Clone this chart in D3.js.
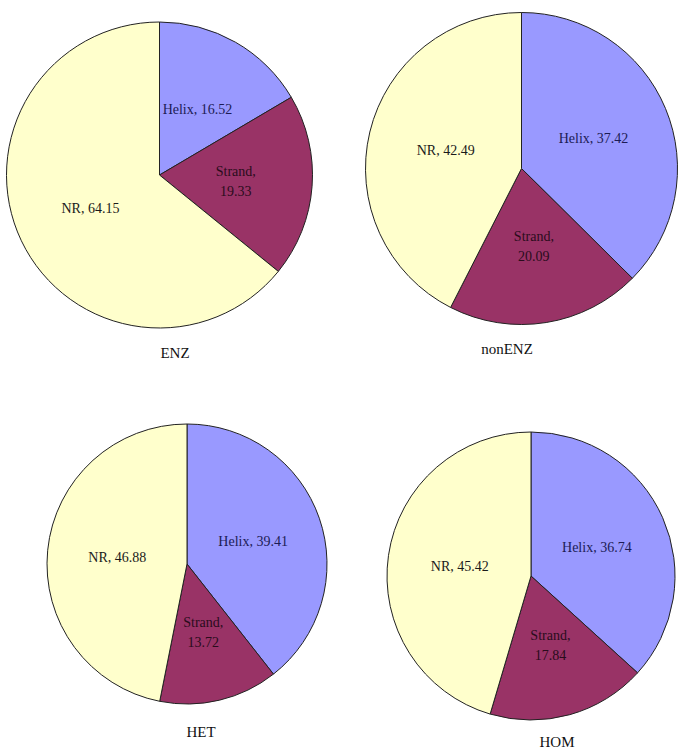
<!DOCTYPE html>
<html>
<head>
<meta charset="utf-8">
<script src="https://cdn.jsdelivr.net/npm/d3@7"></script>
<style>
  body { margin: 0; background: #fff; }
  svg { display: block; }
  text { font-family: "Liberation Serif", "Times New Roman", serif; }
</style>
</head>
<body>
<svg id="chart" width="685" height="754"></svg>
<script>
// data
var groups = ["ENZ", "nonENZ", "HET", "HOM"];
var categories = ["Helix", "Strand", "NR"];
var helix = [16.52, 37.42, 39.41, 36.74];
var strand = [19.33, 20.09, 13.72, 17.84];
var nr = [64.15, 42.49, 46.88, 45.42];

var colors = {Helix: "#9999ff", Strand: "#993366", NR: "#ffffcc"};
var textColors = {Helix: "#1c1c55", Strand: "#2a0c1c", NR: "#1a1a1a"};

// where each pie sits on the page
var layout = [
    {cx: 159.5, cy: 175, r: 153, tx: 175, ty: 358},
    {cx: 521.5, cy: 168.5, r: 156, tx: 507, ty: 354},
    {cx: 187, cy: 564, r: 140, tx: 201, ty: 737},
    {cx: 531, cy: 576, r: 144, tx: 557, ty: 747}
];

var svg = d3.select("#chart");

var pie = d3.pie()
    .sort(null)
    .value(function(d) { return d.value; });

groups.forEach(function(name, i) {
    var pos = layout[i];
    var values = [helix[i], strand[i], nr[i]];
    var slices = pie(categories.map(function(c, j) {
        return {key: c, value: values[j]};
    }));

    var arc = d3.arc().innerRadius(0).outerRadius(pos.r);

    var g = svg.append("g")
        .attr("transform", "translate(" + pos.cx + "," + pos.cy + ")");

    g.selectAll("path")
        .data(slices)
        .enter().append("path")
        .attr("d", arc)
        .attr("fill", function(d) { return colors[d.data.key]; })
        .attr("stroke", "#222")
        .attr("stroke-width", 1);

    var labels = g.selectAll("text.lbl")
        .data(slices)
        .enter().append("text")
        .attr("class", "lbl")
        .attr("text-anchor", "middle")
        .attr("font-size", 14)
        .attr("fill", function(d) { return textColors[d.data.key]; })
        .attr("transform", function(d) {
            var c = arc.centroid(d);
            return "translate(" + c[0] + "," + c[1] + ")";
        });

    // Strand labels wrap onto two lines, the others stay on one
    labels.each(function(d) {
        var t = d3.select(this);
        if (d.data.key === "Strand") {
            t.append("tspan").attr("x", 0).attr("y", -5).text(d.data.key + ",");
            t.append("tspan").attr("x", 0).attr("y", 15).text(d.data.value.toFixed(2));
        } else {
            t.append("tspan").attr("x", 0).attr("y", 5).text(d.data.key + ", " + d.data.value.toFixed(2));
        }
    });

    svg.append("text")
        .attr("x", pos.tx)
        .attr("y", pos.ty)
        .attr("text-anchor", "middle")
        .attr("font-size", 15)
        .attr("fill", "#111")
        .text(name);
});
</script>
</body>
</html>
